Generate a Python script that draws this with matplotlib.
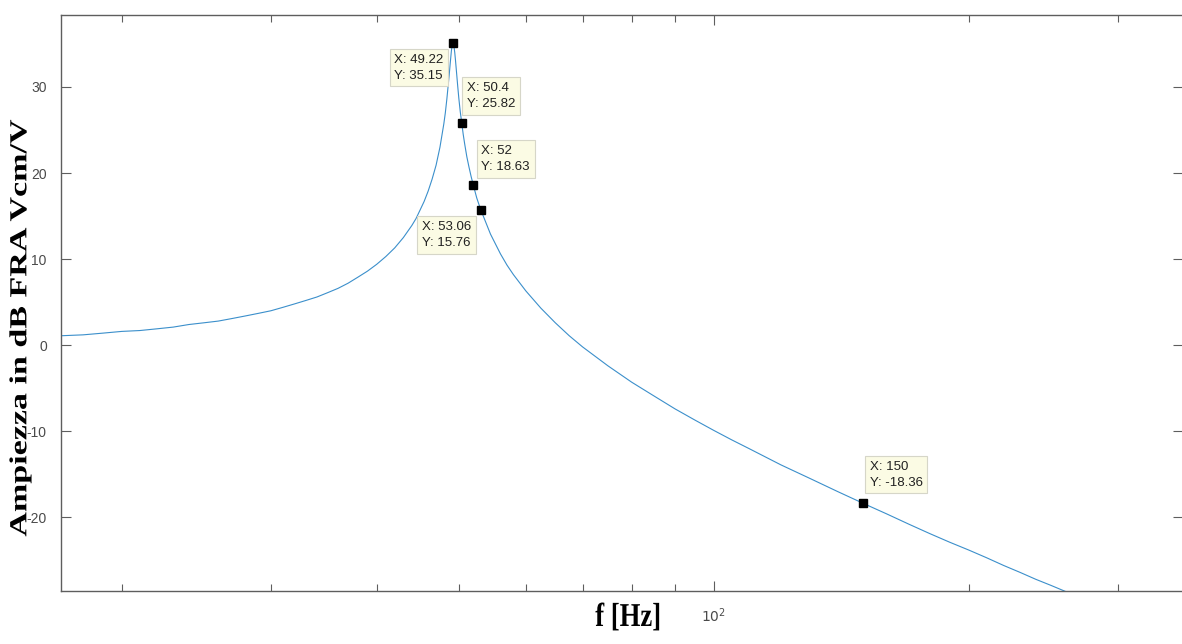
import math
import matplotlib
matplotlib.use("Agg")
import matplotlib.pyplot as plt
from matplotlib.ticker import LogLocator, FixedLocator, NullFormatter, FuncFormatter
from matplotlib.patheffects import AbstractPathEffect
from matplotlib.transforms import Affine2D

plt.rcParams["axes.unicode_minus"] = False


class HSqueeze(AbstractPathEffect):
    """Draw text narrower horizontally, around the centre of its ink."""

    def __init__(self, sx):
        super().__init__()
        self._sx = sx

    def draw_path(self, renderer, gc, tpath, affine, rgbFace=None):
        ext = tpath.get_extents(affine)
        cx = 0.5 * (ext.x0 + ext.x1)
        squeeze = Affine2D().translate(-cx, 0).scale(self._sx, 1).translate(cx, 0)
        renderer.draw_path(gc, tpath, affine + squeeze, rgbFace)


# Frequency response magnitude (FRA, Vcm/V)
freq_hz = [17, 18, 19, 20, 21, 22, 23, 24, 25, 26, 27, 28, 29, 30, 31, 32, 33,
           34, 35, 36, 37, 38, 39, 40, 41, 42, 43, 44, 44.5, 45, 45.5, 46,
           46.5, 47, 47.5, 48, 48.2, 48.4, 48.7, 48.85, 49.0, 49.1, 49.22,
           49.35, 49.45, 49.55, 49.7, 49.85, 50.0, 50.2, 50.4, 50.6, 50.8,
           51.1, 51.4, 51.7, 52, 52.5, 53.06, 54.5, 56, 57, 58, 60, 62.5, 65,
           67.5, 70, 75, 80, 85, 90, 95, 100, 105, 110, 120, 130, 140, 150,
           160, 170, 180, 190, 200, 210, 220, 230, 240, 250, 260, 270]
amp_db = [1.1, 1.2, 1.4, 1.6, 1.7, 1.9, 2.1, 2.4, 2.6, 2.8, 3.1, 3.4, 3.7,
          4.0, 4.4, 4.8, 5.2, 5.6, 6.1, 6.6, 7.2, 7.9, 8.6, 9.4, 10.3, 11.3,
          12.5, 13.9, 14.7, 15.7, 16.7, 17.9, 19.3, 20.9, 23.0, 25.7, 27.0,
          28.6, 31.3, 32.8, 34.2, 34.8, 35.15, 34.7, 34.0, 33.1, 31.6, 30.1,
          28.7, 27.1, 25.82, 24.5, 23.4, 21.9, 20.7, 19.6, 18.63, 17.1, 15.76,
          12.9, 10.6, 9.3, 8.2, 6.3, 4.3, 2.6, 1.1, -0.2, -2.4, -4.3, -5.9,
          -7.4, -8.7, -9.9, -11.0, -12.0, -13.9, -15.5, -17.0, -18.36, -19.6,
          -20.8, -21.9, -22.9, -23.8, -24.7, -25.6, -26.4, -27.2, -27.9,
          -28.6, -29.3]

# Data tips: (frequency, amplitude, label offset in points)
tip_x = [49.22, 50.4, 52, 53.06, 150]
tip_y = [35.15, 25.82, 18.63, 15.76, -18.36]
tip_offset = [(-24.5, -18.0), (20.9, 19.4), (23.4, 18.7), (-24.5, -18.4), (24.1, 20.5)]

x_limits = (16.94, 358.5)
y_limits = (-28.6, 38.4)
y_ticks = [-20, -10, 0, 10, 20, 30]

fig = plt.figure(figsize=(11.82, 6.44), dpi=100)
ax = fig.add_axes([0.0514, 0.0818, 0.9497, 0.8954])

ax.plot(freq_hz, amp_db, color="#3b8fcb", lw=0.8, solid_joinstyle="round")
ax.set_xscale("log")
ax.set_xlim(*x_limits)
ax.set_ylim(*y_limits)

# Axis styling
spine_col = "#5e5e5e"
for s in ax.spines.values():
    s.set_color(spine_col)
    s.set_linewidth(1.0)

ax.xaxis.set_major_locator(LogLocator(base=10, numticks=10))
ax.xaxis.set_minor_locator(LogLocator(base=10, subs=range(2, 10), numticks=20))
ax.xaxis.set_minor_formatter(NullFormatter())
ax.xaxis.set_major_formatter(FuncFormatter(lambda v, p: r"$10^{%d}$" % round(math.log10(v))))
ax.yaxis.set_major_locator(FixedLocator(y_ticks))

ax.tick_params(axis="both", which="major", direction="in", length=7, width=0.8,
               color=spine_col, labelcolor="#4a4a4a", top=True, right=True,
               labelsize=10, pad=10)
ax.tick_params(axis="x", which="minor", direction="in", length=5, width=0.8,
               color=spine_col, top=True)
for lab in ax.get_yticklabels():
    lab.set_fontfamily("Liberation Sans")
ax.tick_params(axis="x", which="major", labelsize=10, pad=11)

ax.set_xlabel("f [Hz]", fontfamily="Liberation Serif", fontweight="bold",
              fontsize=24, path_effects=[HSqueeze(0.8)])
ax.xaxis.set_label_coords(0.5058, -0.0185)
ax.xaxis.label.set_va("top")
ax.set_ylabel("Ampiezza in dB FRA Vcm/V", fontfamily="Liberation Serif",
              fontweight="bold", fontsize=24.5, path_effects=[HSqueeze(0.72)])
ax.yaxis.set_label_coords(-0.0362, 0.4565)
ax.yaxis.label.set_va("center")

# Data tip markers and labels
ax.plot(tip_x, tip_y, linestyle="none", marker="s", markersize=6,
        color="black", zorder=5, clip_on=False)
for tx, ty, off in zip(tip_x, tip_y, tip_offset):
    ax.annotate(f"X: {tx:g}\nY: {ty:g}", xy=(tx, ty), xytext=off,
                textcoords="offset points", ha="center", va="center",
                multialignment="left",
                fontsize=9.5, fontfamily="Liberation Sans", color="#202020",
                linespacing=1.45,
                bbox=dict(boxstyle="square,pad=0.35", fc="#fbfbe4",
                          ec="#d6d6c8", lw=0.8), zorder=6)

fig.savefig("out.png", dpi=100)
